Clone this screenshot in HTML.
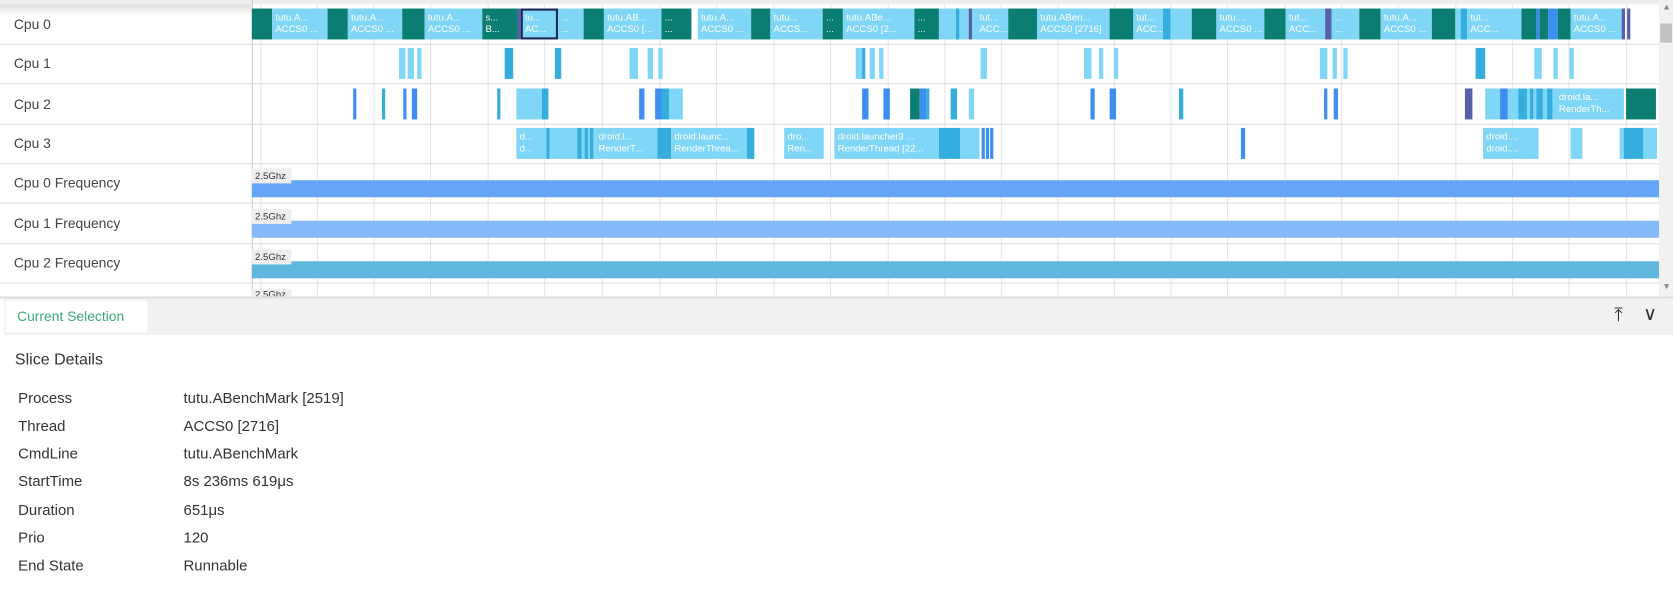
<!DOCTYPE html>
<html><head><meta charset="utf-8"><style>
html,body{margin:0;padding:0;background:#fff;overflow:hidden;width:1673px;height:595px}
#w{position:absolute;left:0;top:0;width:1568px;height:558px;transform:scale(1.06696,1.0663);transform-origin:0 0;font-family:"Liberation Sans",sans-serif;color:#333}
.row{position:absolute;left:0;width:1555px;height:37px;border-bottom:1px solid #ddd}
.lab{position:absolute;left:13px;top:11px;font-size:13px;color:#444}
.g{position:absolute;top:4px;height:274px;width:1px;background:#e6e6e6}
.s{position:absolute;height:29px;color:#fff;font-size:9px;line-height:11px;padding-top:3px;box-sizing:border-box;padding-left:3px;overflow:hidden;white-space:nowrap}
.D{background:#0b7d71}.L{background:#80d6f7}.M{background:#35aede}.B{background:#3d8ef0}.P{background:#5560a8}
.fq{position:absolute;left:236px;width:1319px;height:16px}
.fl{position:absolute;left:236px;width:37px;height:14px;background:#eee;font-size:9px;line-height:14px;padding-left:3px;box-sizing:border-box}
.dl{position:absolute;left:17px;font-size:14px;color:#333}
.dv{position:absolute;left:172px;font-size:14px;color:#333}
</style></head><body><div id="w">
<div style="position:absolute;left:0;top:0;width:1555px;height:4px;background:#eee"></div>
<div style="position:absolute;left:0;top:4px;width:236px;height:10px;background:linear-gradient(#ddd,#fff)"></div>
<div style="position:absolute;left:236px;top:0;width:1px;height:278px;background:#ccc"></div>
<div class="g" style="left:244px"></div><div class="g" style="left:297px"></div><div class="g" style="left:350px"></div><div class="g" style="left:403px"></div><div class="g" style="left:457px"></div><div class="g" style="left:510px"></div><div class="g" style="left:564px"></div><div class="g" style="left:618px"></div><div class="g" style="left:671px"></div><div class="g" style="left:725px"></div><div class="g" style="left:778px"></div><div class="g" style="left:832px"></div><div class="g" style="left:885px"></div><div class="g" style="left:938px"></div><div class="g" style="left:991px"></div><div class="g" style="left:1044px"></div><div class="g" style="left:1097px"></div><div class="g" style="left:1150px"></div><div class="g" style="left:1204px"></div><div class="g" style="left:1257px"></div><div class="g" style="left:1310px"></div><div class="g" style="left:1364px"></div><div class="g" style="left:1417px"></div><div class="g" style="left:1470px"></div><div class="g" style="left:1524px"></div>

<div class="row" style="top:4px"><span class="lab">Cpu 0</span></div>
<div class="row" style="top:41px"><span class="lab">Cpu 1</span></div>
<div class="row" style="top:79px"><span class="lab">Cpu 2</span></div>
<div class="row" style="top:116px"><span class="lab">Cpu 3</span></div>
<div class="row" style="top:153px"><span class="lab">Cpu 0 Frequency</span></div>
<div class="row" style="top:191px"><span class="lab">Cpu 1 Frequency</span></div>
<div class="row" style="top:228px"><span class="lab">Cpu 2 Frequency</span></div>

<div style="position:absolute;top:8px;left:0">
<div class="s D" style="left:236px;width:19px"></div>
<div class="s L" style="left:255px;width:52px">tutu.A...<br>ACCS0 ...</div>
<div class="s D" style="left:307px;width:19px"></div>
<div class="s L" style="left:326px;width:51px">tutu.A...<br>ACCS0 ...</div>
<div class="s D" style="left:377px;width:21px"></div>
<div class="s L" style="left:398px;width:54px">tutu.A...<br>ACCS0 ...</div>
<div class="s D" style="left:452px;width:33px">s...<br>B...</div>
<div class="s P" style="left:485px;width:3px"></div>
<div class="s L" style="left:488px;width:35px;border:2px solid #1a2a55;padding-left:2px;padding-top:1px">tu...<br>AC...</div>
<div class="s L" style="left:523px;width:24px">...<br>...</div>
<div class="s D" style="left:547px;width:19px"></div>
<div class="s L" style="left:566px;width:54px">tutu.AB...<br>ACCS0 [...</div>
<div class="s D" style="left:620px;width:28px">...<br>...</div>
<div class="s L" style="left:654px;width:50px">tutu.A...<br>ACCS0 ...</div>
<div class="s D" style="left:704px;width:18px"></div>
<div class="s L" style="left:722px;width:49px">tutu...<br>ACCS...</div>
<div class="s D" style="left:771px;width:19px">...<br>...</div>
<div class="s L" style="left:790px;width:67px">tutu.ABe...<br>ACCS0 [2...</div>
<div class="s D" style="left:857px;width:23px">...<br>...</div>
<div class="s L" style="left:880px;width:65px"></div>
<div class="s M" style="left:896px;width:2px"></div>
<div class="s P" style="left:908px;width:2px"></div>
<div class="s L" style="left:915px;width:30px">tut...<br>ACC...</div>
<div class="s D" style="left:945px;width:27px"></div>
<div class="s L" style="left:972px;width:90px">tutu.ABen...<br>ACCS0 [2716]</div>
<div class="s D" style="left:1040px;width:23px"></div>
<div class="s L" style="left:1062px;width:28px">tut...<br>ACC...</div>
<div class="s M" style="left:1090px;width:7px"></div>
<div class="s L" style="left:1097px;width:20px"></div>
<div class="s D" style="left:1117px;width:23px"></div>
<div class="s L" style="left:1140px;width:45px">tutu....<br>ACCS0 ...</div>
<div class="s D" style="left:1185px;width:20px"></div>
<div class="s L" style="left:1205px;width:37px">tut...<br>ACC...</div>
<div class="s P" style="left:1242px;width:6px"></div>
<div class="s L" style="left:1248px;width:26px">...<br>...</div>
<div class="s D" style="left:1274px;width:20px"></div>
<div class="s L" style="left:1294px;width:48px">tutu.A...<br>ACCS0 ...</div>
<div class="s D" style="left:1342px;width:22px"></div>
<div class="s L" style="left:1364px;width:5px"></div>
<div class="s M" style="left:1369px;width:6px"></div>
<div class="s L" style="left:1375px;width:51px">tut...<br>ACC...</div>
<div class="s D" style="left:1426px;width:14px"></div>
<div class="s B" style="left:1440px;width:3px"></div>
<div class="s D" style="left:1443px;width:8px"></div>
<div class="s B" style="left:1451px;width:9px"></div>
<div class="s D" style="left:1460px;width:12px"></div>
<div class="s L" style="left:1472px;width:50px">tutu.A...<br>ACCS0 ...</div>
<div class="s P" style="left:1520px;width:2px"></div>
<div class="s P" style="left:1525px;width:2px"></div>
</div>

<div style="position:absolute;top:45px;left:0">
<div class="s L" style="left:374px;width:6px"></div><div class="s L" style="left:382px;width:6px"></div><div class="s L" style="left:391px;width:4px"></div>
<div class="s M" style="left:473px;width:8px"></div><div class="s M" style="left:520px;width:6px"></div>
<div class="s L" style="left:590px;width:8px"></div><div class="s L" style="left:607px;width:5px"></div><div class="s L" style="left:617px;width:4px"></div>
<div class="s L" style="left:802px;width:6px"></div><div class="s M" style="left:808px;width:2px"></div><div class="s L" style="left:815px;width:5px"></div><div class="s L" style="left:824px;width:4px"></div>
<div class="s L" style="left:919px;width:6px"></div>
<div class="s L" style="left:1016px;width:7px"></div><div class="s L" style="left:1030px;width:4px"></div><div class="s L" style="left:1044px;width:4px"></div>
<div class="s L" style="left:1237px;width:7px"></div><div class="s L" style="left:1249px;width:4px"></div><div class="s L" style="left:1259px;width:4px"></div>
<div class="s M" style="left:1383px;width:9px"></div>
<div class="s L" style="left:1438px;width:7px"></div><div class="s L" style="left:1456px;width:4px"></div><div class="s L" style="left:1471px;width:4px"></div>
</div>

<div style="position:absolute;top:83px;left:0">
<div class="s B" style="left:331px;width:3px"></div><div class="s M" style="left:358px;width:3px"></div><div class="s B" style="left:378px;width:3px"></div><div class="s B" style="left:386px;width:5px"></div>
<div class="s M" style="left:466px;width:3px"></div>
<div class="s L" style="left:484px;width:24px"></div><div class="s M" style="left:508px;width:6px"></div>
<div class="s B" style="left:599px;width:5px"></div>
<div class="s B" style="left:614px;width:6px"></div><div class="s M" style="left:620px;width:7px"></div><div class="s L" style="left:627px;width:13px"></div>
<div class="s B" style="left:808px;width:6px"></div><div class="s B" style="left:828px;width:6px"></div>
<div class="s D" style="left:853px;width:9px"></div><div class="s B" style="left:862px;width:6px"></div><div class="s M" style="left:868px;width:2px"></div>
<div class="s M" style="left:891px;width:6px"></div><div class="s L" style="left:908px;width:5px"></div>
<div class="s B" style="left:1022px;width:4px"></div><div class="s B" style="left:1040px;width:6px"></div>
<div class="s M" style="left:1105px;width:4px"></div>
<div class="s B" style="left:1241px;width:3px"></div><div class="s B" style="left:1250px;width:4px"></div>
<div class="s P" style="left:1373px;width:7px"></div>
<div class="s L" style="left:1392px;width:130px"></div>
<div class="s B" style="left:1406px;width:7px"></div>
<div class="s M" style="left:1423px;width:8px"></div><div class="s M" style="left:1434px;width:3px"></div><div class="s M" style="left:1440px;width:6px"></div><div class="s M" style="left:1450px;width:5px"></div>
<div class="s L" style="left:1458px;width:62px">droid.la...<br>RenderTh...</div>
<div class="s D" style="left:1524px;width:28px"></div>
</div>

<div style="position:absolute;top:120px;left:0">
<div class="s L" style="left:484px;width:28px">d...<br>d...</div><div class="s M" style="left:512px;width:3px"></div>
<div class="s L" style="left:515px;width:26px"></div><div class="s M" style="left:541px;width:4px"></div>
<div class="s L" style="left:545px;width:13px"></div><div class="s M" style="left:548px;width:2px"></div><div class="s M" style="left:553px;width:2px"></div>
<div class="s L" style="left:558px;width:58px">droid.l...<br>RenderT...</div><div class="s M" style="left:616px;width:13px"></div>
<div class="s L" style="left:629px;width:71px">droid.launc...<br>RenderThrea...</div><div class="s M" style="left:700px;width:7px"></div>
<div class="s L" style="left:735px;width:37px">dro...<br>Ren...</div>
<div class="s L" style="left:782px;width:98px">droid.launcher3 ...<br>RenderThread [22...</div><div class="s M" style="left:880px;width:20px"></div><div class="s L" style="left:900px;width:18px"></div>
<div class="s B" style="left:920px;width:2px"></div><div class="s B" style="left:924px;width:2px"></div><div class="s B" style="left:928px;width:2px"></div>
<div class="s B" style="left:1163px;width:4px"></div>
<div class="s L" style="left:1390px;width:52px">droid....<br>droid....</div>
<div class="s L" style="left:1472px;width:11px"></div>
<div class="s L" style="left:1518px;width:35px"></div><div class="s M" style="left:1522px;width:18px"></div>
</div>

<div class="fq" style="top:169px;background:#64a5f5"></div><div class="fl" style="top:158px">2.5Ghz</div>
<div class="fq" style="top:207px;background:#85b9f7"></div><div class="fl" style="top:196px">2.5Ghz</div>
<div class="fq" style="top:245px;background:#5fb8dc"></div><div class="fl" style="top:234px">2.5Ghz</div>
<div class="fl" style="top:271px;height:7px;line-height:10px;overflow:hidden">2.5Ghz</div>

<div style="position:absolute;left:1555px;top:0;width:13px;height:278px;background:#f1f1f1"></div>
<div style="position:absolute;left:1556px;top:22px;width:11px;height:18px;background:#c1c1c1"></div>
<div style="position:absolute;left:1558px;top:2px;font-size:8px;color:#888">▲</div>
<div style="position:absolute;left:1558px;top:264px;font-size:8px;color:#888">▼</div>

<div style="position:absolute;left:0;top:278px;width:1568px;height:2px;background:#ddd"></div>
<div style="position:absolute;left:4px;top:280px;width:1564px;height:34px;background:#f1f1f1"></div>
<div style="position:absolute;left:5px;top:282px;width:133px;height:30px;background:#fff"></div>
<div style="position:absolute;left:16px;top:289px;font-size:13px;color:#3daa7a">Current Selection</div>
<div style="position:absolute;left:1513px;top:285px;font-size:18px;color:#333">⤒</div>
<div style="position:absolute;left:1540px;top:284px;font-size:18px;color:#333">∨</div>
<div style="position:absolute;left:14px;top:329px;font-size:15px;color:#333">Slice Details</div>
<div class="dl" style="top:365px">Process</div><div class="dv" style="top:365px">tutu.ABenchMark [2519]</div>
<div class="dl" style="top:391px">Thread</div><div class="dv" style="top:391px">ACCS0 [2716]</div>
<div class="dl" style="top:417px">CmdLine</div><div class="dv" style="top:417px">tutu.ABenchMark</div>
<div class="dl" style="top:443px">StartTime</div><div class="dv" style="top:443px">8s 236ms 619μs</div>
<div class="dl" style="top:470px">Duration</div><div class="dv" style="top:470px">651μs</div>
<div class="dl" style="top:496px">Prio</div><div class="dv" style="top:496px">120</div>
<div class="dl" style="top:522px">End State</div><div class="dv" style="top:522px">Runnable</div>
</div></body></html>
